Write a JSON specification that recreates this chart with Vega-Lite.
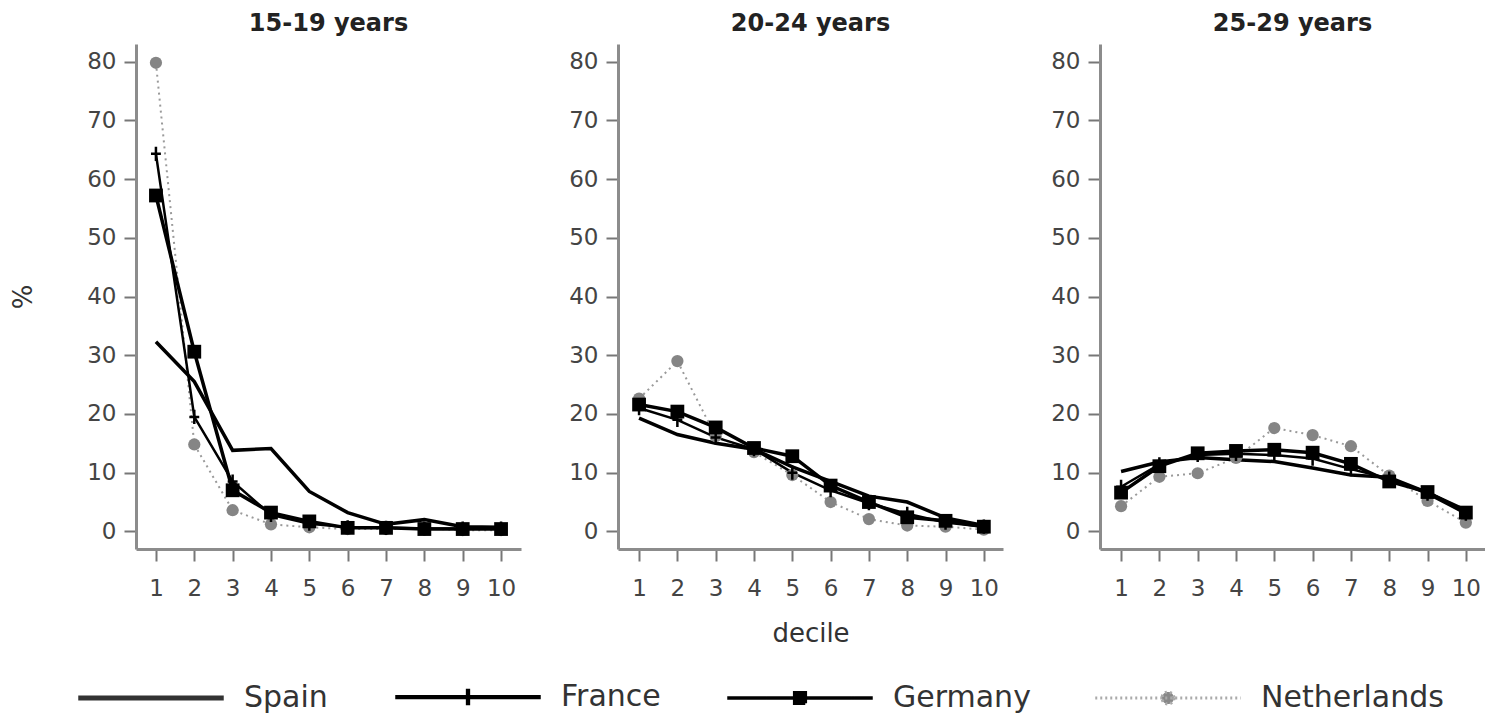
{
  "$schema": "https://vega.github.io/schema/vega-lite/v6.json",
  "padding": {"left": 10, "top": 12, "right": 0, "bottom": 0},
  "datasets": {
    "d": [
      {"age":"15-19 years","country":"Spain","decile":1,"pct":32.3},{"age":"15-19 years","country":"Spain","decile":2,"pct":25.5},{"age":"15-19 years","country":"Spain","decile":3,"pct":13.8},{"age":"15-19 years","country":"Spain","decile":4,"pct":14.1},{"age":"15-19 years","country":"Spain","decile":5,"pct":6.8},{"age":"15-19 years","country":"Spain","decile":6,"pct":3.2},{"age":"15-19 years","country":"Spain","decile":7,"pct":1.2},{"age":"15-19 years","country":"Spain","decile":8,"pct":2.0},{"age":"15-19 years","country":"Spain","decile":9,"pct":0.8},{"age":"15-19 years","country":"Spain","decile":10,"pct":0.7},
      {"age":"15-19 years","country":"France","decile":1,"pct":64.3},{"age":"15-19 years","country":"France","decile":2,"pct":19.5},{"age":"15-19 years","country":"France","decile":3,"pct":8.5},{"age":"15-19 years","country":"France","decile":4,"pct":2.8},{"age":"15-19 years","country":"France","decile":5,"pct":1.3},{"age":"15-19 years","country":"France","decile":6,"pct":0.7},{"age":"15-19 years","country":"France","decile":7,"pct":0.6},{"age":"15-19 years","country":"France","decile":8,"pct":0.5},{"age":"15-19 years","country":"France","decile":9,"pct":0.5},{"age":"15-19 years","country":"France","decile":10,"pct":0.5},
      {"age":"15-19 years","country":"Germany","decile":1,"pct":57.2},{"age":"15-19 years","country":"Germany","decile":2,"pct":30.6},{"age":"15-19 years","country":"Germany","decile":3,"pct":7.0},{"age":"15-19 years","country":"Germany","decile":4,"pct":3.2},{"age":"15-19 years","country":"Germany","decile":5,"pct":1.7},{"age":"15-19 years","country":"Germany","decile":6,"pct":0.6},{"age":"15-19 years","country":"Germany","decile":7,"pct":0.6},{"age":"15-19 years","country":"Germany","decile":8,"pct":0.4},{"age":"15-19 years","country":"Germany","decile":9,"pct":0.4},{"age":"15-19 years","country":"Germany","decile":10,"pct":0.4},
      {"age":"15-19 years","country":"Netherlands","decile":1,"pct":79.8},{"age":"15-19 years","country":"Netherlands","decile":2,"pct":14.8},{"age":"15-19 years","country":"Netherlands","decile":3,"pct":3.6},{"age":"15-19 years","country":"Netherlands","decile":4,"pct":1.2},{"age":"15-19 years","country":"Netherlands","decile":5,"pct":0.7},{"age":"15-19 years","country":"Netherlands","decile":6,"pct":0.4},{"age":"15-19 years","country":"Netherlands","decile":7,"pct":0.4},{"age":"15-19 years","country":"Netherlands","decile":8,"pct":0.5},{"age":"15-19 years","country":"Netherlands","decile":9,"pct":0.2},{"age":"15-19 years","country":"Netherlands","decile":10,"pct":0.2},
      {"age":"20-24 years","country":"Spain","decile":1,"pct":19.3},{"age":"20-24 years","country":"Spain","decile":2,"pct":16.5},{"age":"20-24 years","country":"Spain","decile":3,"pct":15.0},{"age":"20-24 years","country":"Spain","decile":4,"pct":14.0},{"age":"20-24 years","country":"Spain","decile":5,"pct":11.0},{"age":"20-24 years","country":"Spain","decile":6,"pct":8.5},{"age":"20-24 years","country":"Spain","decile":7,"pct":6.0},{"age":"20-24 years","country":"Spain","decile":8,"pct":5.0},{"age":"20-24 years","country":"Spain","decile":9,"pct":2.3},{"age":"20-24 years","country":"Spain","decile":10,"pct":1.0},
      {"age":"20-24 years","country":"France","decile":1,"pct":21.0},{"age":"20-24 years","country":"France","decile":2,"pct":19.0},{"age":"20-24 years","country":"France","decile":3,"pct":16.0},{"age":"20-24 years","country":"France","decile":4,"pct":14.0},{"age":"20-24 years","country":"France","decile":5,"pct":10.0},{"age":"20-24 years","country":"France","decile":6,"pct":7.0},{"age":"20-24 years","country":"France","decile":7,"pct":4.8},{"age":"20-24 years","country":"France","decile":8,"pct":3.0},{"age":"20-24 years","country":"France","decile":9,"pct":1.5},{"age":"20-24 years","country":"France","decile":10,"pct":0.8},
      {"age":"20-24 years","country":"Germany","decile":1,"pct":21.6},{"age":"20-24 years","country":"Germany","decile":2,"pct":20.4},{"age":"20-24 years","country":"Germany","decile":3,"pct":17.7},{"age":"20-24 years","country":"Germany","decile":4,"pct":14.2},{"age":"20-24 years","country":"Germany","decile":5,"pct":12.8},{"age":"20-24 years","country":"Germany","decile":6,"pct":7.8},{"age":"20-24 years","country":"Germany","decile":7,"pct":5.0},{"age":"20-24 years","country":"Germany","decile":8,"pct":2.4},{"age":"20-24 years","country":"Germany","decile":9,"pct":1.8},{"age":"20-24 years","country":"Germany","decile":10,"pct":0.8},
      {"age":"20-24 years","country":"Netherlands","decile":1,"pct":22.6},{"age":"20-24 years","country":"Netherlands","decile":2,"pct":29.0},{"age":"20-24 years","country":"Netherlands","decile":3,"pct":16.2},{"age":"20-24 years","country":"Netherlands","decile":4,"pct":13.5},{"age":"20-24 years","country":"Netherlands","decile":5,"pct":9.6},{"age":"20-24 years","country":"Netherlands","decile":6,"pct":5.0},{"age":"20-24 years","country":"Netherlands","decile":7,"pct":2.1},{"age":"20-24 years","country":"Netherlands","decile":8,"pct":1.0},{"age":"20-24 years","country":"Netherlands","decile":9,"pct":0.8},{"age":"20-24 years","country":"Netherlands","decile":10,"pct":0.3},
      {"age":"25-29 years","country":"Spain","decile":1,"pct":10.2},{"age":"25-29 years","country":"Spain","decile":2,"pct":11.8},{"age":"25-29 years","country":"Spain","decile":3,"pct":12.6},{"age":"25-29 years","country":"Spain","decile":4,"pct":12.2},{"age":"25-29 years","country":"Spain","decile":5,"pct":11.9},{"age":"25-29 years","country":"Spain","decile":6,"pct":10.8},{"age":"25-29 years","country":"Spain","decile":7,"pct":9.6},{"age":"25-29 years","country":"Spain","decile":8,"pct":9.2},{"age":"25-29 years","country":"Spain","decile":9,"pct":6.6},{"age":"25-29 years","country":"Spain","decile":10,"pct":3.6},
      {"age":"25-29 years","country":"France","decile":1,"pct":7.6},{"age":"25-29 years","country":"France","decile":2,"pct":11.4},{"age":"25-29 years","country":"France","decile":3,"pct":13.0},{"age":"25-29 years","country":"France","decile":4,"pct":13.2},{"age":"25-29 years","country":"France","decile":5,"pct":13.0},{"age":"25-29 years","country":"France","decile":6,"pct":12.4},{"age":"25-29 years","country":"France","decile":7,"pct":10.6},{"age":"25-29 years","country":"France","decile":8,"pct":9.0},{"age":"25-29 years","country":"France","decile":9,"pct":6.4},{"age":"25-29 years","country":"France","decile":10,"pct":3.0},
      {"age":"25-29 years","country":"Germany","decile":1,"pct":6.6},{"age":"25-29 years","country":"Germany","decile":2,"pct":11.1},{"age":"25-29 years","country":"Germany","decile":3,"pct":13.3},{"age":"25-29 years","country":"Germany","decile":4,"pct":13.7},{"age":"25-29 years","country":"Germany","decile":5,"pct":13.9},{"age":"25-29 years","country":"Germany","decile":6,"pct":13.4},{"age":"25-29 years","country":"Germany","decile":7,"pct":11.5},{"age":"25-29 years","country":"Germany","decile":8,"pct":8.5},{"age":"25-29 years","country":"Germany","decile":9,"pct":6.7},{"age":"25-29 years","country":"Germany","decile":10,"pct":3.2},
      {"age":"25-29 years","country":"Netherlands","decile":1,"pct":4.3},{"age":"25-29 years","country":"Netherlands","decile":2,"pct":9.3},{"age":"25-29 years","country":"Netherlands","decile":3,"pct":9.9},{"age":"25-29 years","country":"Netherlands","decile":4,"pct":12.5},{"age":"25-29 years","country":"Netherlands","decile":5,"pct":17.6},{"age":"25-29 years","country":"Netherlands","decile":6,"pct":16.4},{"age":"25-29 years","country":"Netherlands","decile":7,"pct":14.5},{"age":"25-29 years","country":"Netherlands","decile":8,"pct":9.5},{"age":"25-29 years","country":"Netherlands","decile":9,"pct":5.2},{"age":"25-29 years","country":"Netherlands","decile":10,"pct":1.5}
    ]
  },
  "data": {"name": "d"},
  "spacing": 47,
  "hconcat": [
    {
      "width": 385, "height": 505,
      "title": "15-19 years",
      "transform": [{"filter": "datum.age == '15-19 years'"}],
      "encoding": {
        "x": {"field": "decile", "type": "quantitative", "scale": {"domain": [0.48, 10.52], "nice": false, "zero": false}, "axis": {"values": [1,2,3,4,5,6,7,8,9,10], "title": null}},
        "y": {"field": "pct", "type": "quantitative", "scale": {"domain": [-3, 83], "nice": false, "zero": false}, "axis": {"values": [0,10,20,30,40,50,60,70,80], "title": "%", "titlePadding": 50}}
      },
      "layer": [
        {"transform": [{"filter": "datum.country == 'Netherlands'"}], "mark": {"type": "line", "color": "#9a9a9a", "strokeWidth": 2, "strokeDash": [2, 4]}, "encoding": {}},
        {"transform": [{"filter": "datum.country == 'Spain'"}], "mark": {"type": "line", "color": "#000000", "strokeWidth": 3.5}, "encoding": {}},
        {"transform": [{"filter": "datum.country == 'France'"}], "mark": {"type": "line", "color": "#000000", "strokeWidth": 2.5}, "encoding": {}},
        {"transform": [{"filter": "datum.country == 'Germany'"}], "mark": {"type": "line", "color": "#000000", "strokeWidth": 3.5}, "encoding": {}},
        {"transform": [{"filter": "datum.country == 'Netherlands'"}], "mark": {"type": "point", "shape": "circle", "filled": true, "color": "#858585", "opacity": 1, "size": 150}, "encoding": {}},
        {"transform": [{"filter": "datum.country == 'Germany'"}], "mark": {"type": "point", "shape": "square", "filled": true, "color": "#000000", "opacity": 1, "size": 190}, "encoding": {}},
        {"transform": [{"filter": "datum.country == 'France'"}], "mark": {"type": "point", "shape": "M0,-1V1M-0.7,0H0.7", "filled": false, "color": "#000000", "strokeWidth": 2.5, "opacity": 1, "size": 200}, "encoding": {}}
      ]
    },
    {
      "width": 385, "height": 505,
      "title": "20-24 years",
      "transform": [{"filter": "datum.age == '20-24 years'"}],
      "encoding": {
        "x": {"field": "decile", "type": "quantitative", "scale": {"domain": [0.45, 10.5], "nice": false, "zero": false}, "axis": {"values": [1,2,3,4,5,6,7,8,9,10], "title": "decile"}},
        "y": {"field": "pct", "type": "quantitative", "scale": {"domain": [-3, 83], "nice": false, "zero": false}, "axis": {"values": [0,10,20,30,40,50,60,70,80], "title": null}}
      },
      "layer": [
        {"transform": [{"filter": "datum.country == 'Netherlands'"}], "mark": {"type": "line", "color": "#9a9a9a", "strokeWidth": 2, "strokeDash": [2, 4]}, "encoding": {}},
        {"transform": [{"filter": "datum.country == 'Spain'"}], "mark": {"type": "line", "color": "#000000", "strokeWidth": 3.5}, "encoding": {}},
        {"transform": [{"filter": "datum.country == 'France'"}], "mark": {"type": "line", "color": "#000000", "strokeWidth": 2.5}, "encoding": {}},
        {"transform": [{"filter": "datum.country == 'Germany'"}], "mark": {"type": "line", "color": "#000000", "strokeWidth": 3.5}, "encoding": {}},
        {"transform": [{"filter": "datum.country == 'Netherlands'"}], "mark": {"type": "point", "shape": "circle", "filled": true, "color": "#858585", "opacity": 1, "size": 150}, "encoding": {}},
        {"transform": [{"filter": "datum.country == 'Germany'"}], "mark": {"type": "point", "shape": "square", "filled": true, "color": "#000000", "opacity": 1, "size": 190}, "encoding": {}},
        {"transform": [{"filter": "datum.country == 'France'"}], "mark": {"type": "point", "shape": "M0,-1V1M-0.7,0H0.7", "filled": false, "color": "#000000", "strokeWidth": 2.5, "opacity": 1, "size": 200}, "encoding": {}},
        {
          "transform": [{"filter": "datum.decile > 99"}],
          "mark": {"type": "point", "filled": true, "opacity": 1, "size": 225},
          "encoding": {
            "shape": {"field": "country", "type": "nominal", "scale": {"domain": ["Spain", "France", "Germany", "Netherlands"], "range": ["M-9.7,0H9.7", "M-9.7,0H9.7M0,-1.1V1.1", "M-9.7,0H9.7M-0.7,-0.7H0.7V0.7H-0.7Z", "M-9.7,0H9.7M0.8,0A0.8,0.8,0,1,1,-0.8,0A0.8,0.8,0,1,1,0.8,0Z"]}},
            "fill": {"field": "country", "type": "nominal", "scale": {"domain": ["Spain", "France", "Germany", "Netherlands"], "range": ["#333333", "#000000", "#000000", "#888888"]}},
            "stroke": {"field": "country", "type": "nominal", "scale": {"domain": ["Spain", "France", "Germany", "Netherlands"], "range": ["#333333", "#000000", "#000000", "#aaaaaa"]}},
            "strokeWidth": {"field": "country", "type": "nominal", "scale": {"domain": ["Spain", "France", "Germany", "Netherlands"], "range": [5, 3, 3.5, 1.5]}},
            "strokeDash": {"field": "country", "type": "nominal", "scale": {"domain": ["Spain", "France", "Germany", "Netherlands"], "range": [[1, 0], [1, 0], [1, 0], [2, 3]]}}
          }
        }
      ]
    },
    {
      "width": 385, "height": 505,
      "title": "25-29 years",
      "transform": [{"filter": "datum.age == '25-29 years'"}],
      "encoding": {
        "x": {"field": "decile", "type": "quantitative", "scale": {"domain": [0.45, 10.5], "nice": false, "zero": false}, "axis": {"values": [1,2,3,4,5,6,7,8,9,10], "title": null}},
        "y": {"field": "pct", "type": "quantitative", "scale": {"domain": [-3, 83], "nice": false, "zero": false}, "axis": {"values": [0,10,20,30,40,50,60,70,80], "title": null}}
      },
      "layer": [
        {"transform": [{"filter": "datum.country == 'Netherlands'"}], "mark": {"type": "line", "color": "#9a9a9a", "strokeWidth": 2, "strokeDash": [2, 4]}, "encoding": {}},
        {"transform": [{"filter": "datum.country == 'Spain'"}], "mark": {"type": "line", "color": "#000000", "strokeWidth": 3.5}, "encoding": {}},
        {"transform": [{"filter": "datum.country == 'France'"}], "mark": {"type": "line", "color": "#000000", "strokeWidth": 2.5}, "encoding": {}},
        {"transform": [{"filter": "datum.country == 'Germany'"}], "mark": {"type": "line", "color": "#000000", "strokeWidth": 3.5}, "encoding": {}},
        {"transform": [{"filter": "datum.country == 'Netherlands'"}], "mark": {"type": "point", "shape": "circle", "filled": true, "color": "#858585", "opacity": 1, "size": 150}, "encoding": {}},
        {"transform": [{"filter": "datum.country == 'Germany'"}], "mark": {"type": "point", "shape": "square", "filled": true, "color": "#000000", "opacity": 1, "size": 190}, "encoding": {}},
        {"transform": [{"filter": "datum.country == 'France'"}], "mark": {"type": "point", "shape": "M0,-1V1M-0.7,0H0.7", "filled": false, "color": "#000000", "strokeWidth": 2.5, "opacity": 1, "size": 200}, "encoding": {}}
      ]
    }
  ],
  "config": {
    "font": "DejaVu Sans",
    "view": {"stroke": null},
    "title": {"fontSize": 24, "fontWeight": "bold", "color": "#222222", "offset": 8, "anchor": "middle"},
    "axis": {
      "grid": false,
      "domainColor": "#8c8c8c", "domainWidth": 3,
      "tickColor": "#777777", "tickWidth": 2, "tickSize": 12,
      "labelColor": "#444444", "labelFontSize": 23, "labelPadding": 8,
      "titleFontSize": 26, "titleFontWeight": "normal", "titleColor": "#333333"
    },
    "axisX": {"labelPadding": 16, "titlePadding": 20},
    "legend": {
      "orient": "bottom", "direction": "horizontal", "columns": 4, "title": null,
      "labelFontSize": 30, "labelColor": "#333333", "labelOffset": 78, "columnPadding": 58,
      "symbolSize": 225, "offset": 36, "labelLimit": 400
    }
  }
}
